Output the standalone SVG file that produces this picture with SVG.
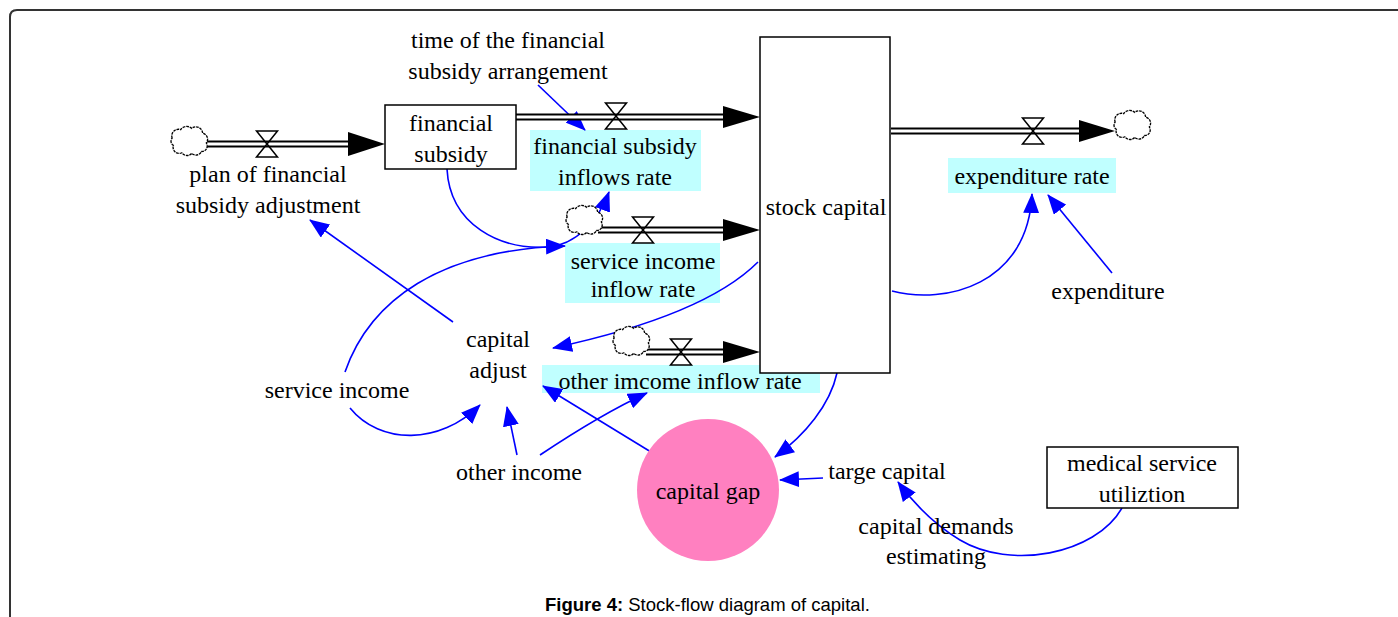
<svg xmlns="http://www.w3.org/2000/svg" xmlns:xlink="http://www.w3.org/1999/xlink" width="1398" height="617" viewBox="0 0 1398 617">
<style>
.t{font-family:"Liberation Serif","Times New Roman",serif;font-size:24px;fill:#000;text-anchor:middle}
.box{fill:#fff;stroke:#000;stroke-width:1.5}
.rate{fill:#C0FFFF;stroke:none}
.pipeo{stroke:#000;stroke-width:7;fill:none}
.pipei{stroke:#fff;stroke-width:3;fill:none}
.head{fill:#000}
.link{fill:none;stroke:#0000FF;stroke-width:1.6;marker-end:url(#ah)}
.cap{font-family:"Liberation Sans",Arial,sans-serif;font-size:18.5px;fill:#000}
</style>
<defs>
<marker id="ah" viewBox="0 0 20 16" refX="19" refY="8" markerWidth="20" markerHeight="16" markerUnits="userSpaceOnUse" orient="auto">
<path d="M0,0 L20,8 L0,16 z" fill="#0000FF"/>
</marker>
<g id="valve">
<path d="M-10.5,-13 L10.5,-13 L0,0 Z M-10.5,13 L10.5,13 L0,0 Z" fill="none" stroke="#000" stroke-width="1.5"/>
</g>
<g id="cloud">
<path d="M-13,-4 a5.5,5.5 0 0 1 7,-7 a6,6 0 0 1 9,-1 a5.5,5.5 0 0 1 9,4 a5,5 0 0 1 3,8 a4.5,4.5 0 0 1 -4,7 a5,5 0 0 1 -8,1.5 a5,5 0 0 1 -8,-0.5 a5,5 0 0 1 -7,-6 a4,4 0 0 1 -1,-6 z" fill="#fff" stroke="#000" stroke-width="1.1" stroke-dasharray="2.2 0.7"/>
</g>
</defs>
<rect width="1398" height="617" fill="#fff"/>
<path d="M10,617 V17 Q10,10 17,10 H1398" fill="none" stroke="#333" stroke-width="2"/>

<g id="rate-boxes">
<rect class="rate" x="530" y="130" width="171" height="61"/>
<rect class="rate" x="565" y="243" width="155" height="60"/>
<rect class="rate" x="542" y="365" width="278" height="28"/>
<rect class="rate" x="948" y="158" width="168" height="35"/>
</g>

<g id="connectors">
<path class="link" d="M538,85 L585,130"/>
<path class="link" d="M447,169 C450,225 500,250 548,247 C575,245 598,222 609,192"/>
<path class="link" d="M345,372 C370,300 440,250 565,246"/>
<path class="link" d="M350,408 C380,445 440,445 480,405"/>
<path class="link" d="M517,455 L507,407"/>
<path class="link" d="M540,455 C570,435 610,410 647,393"/>
<path class="link" d="M651,452 L543,386"/>
<path class="link" d="M758,262 C725,295 660,325 553,348"/>
<path class="link" d="M453,322 L310,220"/>
<path class="link" d="M837,373 C830,405 805,435 775,457"/>
<path class="link" d="M823,478 L780,480"/>
<path class="link" d="M1122,508 C1095,555 1010,570 960,540 C935,525 915,505 898,482"/>
<path class="link" d="M892,291 C945,305 1028,285 1032,194"/>
<path class="link" d="M1112,273 L1048,195"/>
</g>

<g id="flows">
<path class="pipeo" d="M205,144 H350 M516,117 H724 M598,230 H724 M646,352 H724 M891,131 H1080"/>
<path class="pipei" d="M205,144 H350 M516,117 H724 M598,230 H724 M646,352 H724 M891,131 H1080"/>
<polygon class="head" points="348,132 385,144 348,156"/>
<polygon class="head" points="723,106 760,117 723,128"/>
<polygon class="head" points="723,219 760,230 723,241"/>
<polygon class="head" points="723,341 760,352 723,363"/>
<polygon class="head" points="1079,120 1115,131 1079,142"/>
<use xlink:href="#cloud" transform="translate(188,143) scale(1.22)"/>
<use xlink:href="#cloud" transform="translate(583,222) scale(1.22)"/>
<use xlink:href="#cloud" transform="translate(630,343) scale(1.22)"/>
<use xlink:href="#cloud" transform="translate(1131,127) scale(1.22)"/>
<use xlink:href="#valve" x="267" y="144"/>
<use xlink:href="#valve" x="616" y="116"/>
<use xlink:href="#valve" x="643" y="230"/>
<use xlink:href="#valve" x="681" y="352"/>
<use xlink:href="#valve" x="1033" y="131"/>
</g>

<g id="stock-capital">
<rect class="box" x="760" y="37" width="130" height="336"/>
<text class="t" x="826" y="215">stock capital</text>
</g>
<g id="financial-subsidy">
<rect class="box" x="385" y="105" width="131" height="64"/>
<text class="t" x="451" y="131">financial</text>
<text class="t" x="451" y="162">subsidy</text>
</g>
<g id="medical-service">
<rect class="box" x="1047" y="447" width="191" height="61"/>
<text class="t" x="1142" y="471">medical service</text>
<text class="t" x="1142" y="502">utiliztion</text>
</g>
<g id="capital-gap">
<ellipse cx="708" cy="490" rx="71" ry="71" fill="#FF80C0"/>
<text class="t" x="708" y="499">capital gap</text>
</g>

<g id="time-arrangement"><text class="t" x="508" y="48">time of the financial</text><text class="t" x="508" y="79">subsidy arrangement</text></g>
<g id="plan-adjustment"><text class="t" x="268" y="182">plan of financial</text><text class="t" x="268" y="213">subsidy adjustment</text></g>
<g id="fs-inflows-rate"><text class="t" x="615" y="154">financial subsidy</text><text class="t" x="615" y="185">inflows rate</text></g>
<g id="si-inflow-rate"><text class="t" x="643" y="269">service income</text><text class="t" x="643" y="297">inflow rate</text></g>
<g id="oi-inflow-rate"><text class="t" x="680" y="389">other imcome inflow rate</text></g>
<g id="expenditure-rate"><text class="t" x="1032" y="184">expenditure rate</text></g>
<g id="expenditure"><text class="t" x="1108" y="299">expenditure</text></g>
<g id="capital-adjust"><text class="t" x="498" y="347">capital</text><text class="t" x="498" y="378">adjust</text></g>
<g id="service-income"><text class="t" x="337" y="398">service income</text></g>
<g id="other-income"><text class="t" x="519" y="480">other income</text></g>
<g id="targe-capital"><text class="t" x="887" y="479">targe capital</text></g>
<g id="capital-demands"><text class="t" x="936" y="534">capital demands</text><text class="t" x="936" y="564">estimating</text></g>

<text class="cap" x="545" y="611"><tspan font-weight="bold">Figure 4:</tspan> Stock-flow diagram of capital.</text>
</svg>
